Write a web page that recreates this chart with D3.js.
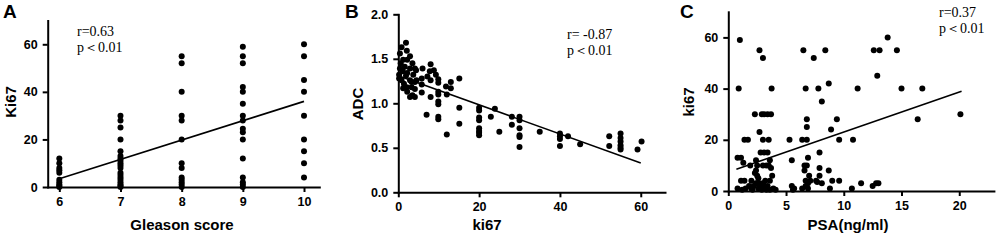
<!DOCTYPE html>
<html>
<head>
<meta charset="utf-8">
<script src="https://cdn.jsdelivr.net/npm/d3@7"></script>
<style>
  body { margin: 0; background: #fff; }
  svg { display: block; }
  .axis path, .axis line { stroke: #000; stroke-width: 2px; }
  .axis text { font-family: Arial, "Liberation Sans", sans-serif; font-weight: bold; font-size: 12.5px; fill: #000; }
  .title { font-family: Arial, "Liberation Sans", sans-serif; font-weight: bold; font-size: 15px; }
  .letter { font-family: Arial, "Liberation Sans", sans-serif; font-weight: bold; font-size: 19px; }
  .stat { font-family: "Times New Roman", "Liberation Serif", serif; font-size: 14px; }
</style>
</head>
<body>
<div id="chart"></div>
<script>
// Panel A: Ki67 by Gleason score
const gleasonScores = [6, 7, 8, 9, 10];
const ki67Gleason6 = [12, 10, 8, 7, 6, 3, 2, 1, 0.5, 0];
const ki67Gleason7 = [30, 28, 25, 20, 15, 13, 12, 11, 10, 9, 8, 6, 5, 4, 3, 2, 1, 0.5, 0];
const ki67Gleason8 = [55, 52, 40, 30, 28, 20, 10, 8, 4, 3, 2, 1, 0];
const ki67Gleason9 = [59, 55, 52, 42, 40, 35, 30, 28, 24.5, 23, 20, 12, 4, 2, 1, 0];
const ki67Gleason10 = [60, 55, 45, 40, 30, 20, 15, 10, 4];
const fitAX = [6, 10];
const fitAY = [3.5, 36];
const ticksAX = [6, 7, 8, 9, 10];
const ticksAY = [0, 20, 40, 60];

// Panel B: ADC vs ki67
const ki67B = [1.9, 0.8, 2.1, 0.4, 2.9, 1.2, 2.2, 0.6, 3.5, 1.6, 0.4, 2.9, 4.1, 1.1, 2.2, 0.2, 1.9, 3.7,
  0.8, 2.9, 1.4, 3.3, 4.1, 2.1, 3.3, 4.1, 2.2, 3.5, 2.9, 4.1, 1.2, 0.2, 4.5, 4.4,
  6.0, 5.8, 5.8, 5.8, 7.2, 7.0, 8.0, 7.8, 8.0, 8.0, 8.8, 9.3, 9.9, 9.9, 9.9, 9.9, 9.9, 9.9, 9.9, 9.9,
  11.8, 12.0, 13.0, 13.0, 15.1, 15.1, 15.1, 12.0,
  20, 20, 20, 20, 20, 20, 20, 20, 22.9, 23.9, 25, 28.1, 28.1,
  30, 30, 30, 30, 30, 30, 35, 40, 40, 40, 40, 42, 45, 52.2, 52.2,
  55, 55, 55, 55, 55, 55, 59.2, 60.2];
const adcB = [1.68, 1.63, 1.59, 1.56, 1.53, 1.49, 1.49, 1.45, 1.45, 1.41, 1.39, 1.39, 1.39, 1.36, 1.34, 1.32, 1.31, 1.32,
  1.26, 1.26, 1.22, 1.24, 1.24, 1.18, 1.18, 1.16, 1.13, 1.09, 1.07, 1.07, 1.17, 1.28, 1.26, 1.37,
  1.39, 1.28, 1.21, 1.12, 1.30, 0.87, 1.44, 1.36, 1.26, 1.07, 1.37, 1.32, 1.27, 1.23, 1.13, 1.10, 1.02, 0.99, 0.85, 0.82,
  1.19, 1.10, 1.24, 1.17, 1.28, 0.95, 0.77, 0.65,
  0.95, 0.92, 0.84, 0.81, 0.72, 0.69, 0.67, 0.64, 0.85, 0.94, 0.68, 0.85, 0.76,
  0.85, 0.81, 0.72, 0.64, 0.62, 0.51, 0.68, 0.66, 0.63, 0.60, 0.52, 0.63, 0.54, 0.63, 0.52,
  0.66, 0.61, 0.57, 0.53, 0.50, 0.48, 0.48, 0.57];
const fitBX = [0.5, 60];
const fitBY = [1.30, 0.33];
const ticksBX = [0, 20, 40, 60];
const ticksBY = [0, 0.5, 1.0, 1.5, 2.0];

// Panel C: ki67 vs PSA
const psaC = [1.0, 2.7, 3.0, 0.9, 3.75, 6.5, 7.4, 8.4, 12.6, 13.1, 14.6, 13.8, 12.9, 6.7, 7.8, 11.2, 15.0, 16.8, 8.7, 8.1,
  2.3, 2.9, 3.1, 3.4, 3.7, 20.1, 16.4, 9.4, 6.8, 6.8, 2.7, 8.9,
  1.4, 1.7, 3.0, 3.5, 5.3, 6.4, 6.8, 9.6, 10.8,
  2.8, 3.1, 3.4, 7.9, 0.8, 1.1, 6.9, 2.4, 5.5, 3.6,
  1.3, 2.5, 3.0, 3.3, 3.5, 6.6, 6.8, 1.9, 7.9, 2.4, 6.6, 8.7, 3.7,
  2.3, 2.5, 3.8, 7.0, 2.6, 7.9,
  1.1, 1.4, 2.0, 3.2, 3.6, 6.7, 7.1, 7.6, 9.0, 9.6, 6.9, 8.1, 11.5, 12.8, 13.0, 7.7, 6.7, 5.5, 12.5,
  0.8, 1.5, 1.8, 2.0, 2.2, 2.4, 2.6, 2.8, 3.0, 3.2, 3.4, 3.6, 3.9, 2.1, 2.9, 1.2, 3.3, 4.1, 5.7, 6.4, 6.9, 8.8, 10.7, 5.6,
  2.5, 2.7, 3.1];
const ki67C = [59, 55, 52, 40, 40, 55, 52, 55, 55, 55, 55, 60, 45, 40, 40, 40, 40, 40, 42, 35,
  30, 30, 30, 30, 30, 30, 28, 28, 28, 25, 23, 24,
  20, 20, 20, 20, 20, 20, 20, 20, 20,
  15, 15, 15, 15, 13, 13, 13, 12, 12, 12,
  11, 10, 10, 10, 10, 10, 10, 10, 9, 8, 8, 8, 9,
  7, 6, 6, 6, 5, 6,
  4, 4, 4, 4, 4, 4, 4, 4, 4, 4, 3, 3, 3, 3, 3, 3.5, 2, 2, 2,
  1, 1, 2, 1, 2, 3, 1, 2, 3, 1, 2, 0.5, 1, 0.5, 0.5, 0.5, 0.5, 0.5, 1, 1, 1, 1, 1, 0.5,
  3, 3, 2];
const fitCX = [0.7, 20.2];
const fitCY = [8.5, 39];
const ticksCX = [0, 5, 10, 15, 20];
const ticksCY = [0, 20, 40, 60];

const width = 1000, height = 242;

const svg = d3.select("#chart").append("svg")
  .attr("width", width)
  .attr("height", height);

function scatterPanel(opts) {
  const x = d3.scaleLinear().domain(opts.xDomain).range(opts.xRange);
  const y = d3.scaleLinear().domain(opts.yDomain).range(opts.yRange);
  const g = svg.append("g");

  // axes
  g.append("g")
    .attr("class", "axis")
    .attr("transform", "translate(0," + opts.yRange[0] + ")")
    .call(d3.axisBottom(x).tickValues(opts.xTicks).tickSize(5).tickSizeOuter(0)
      .tickPadding(5).tickFormat(opts.xFormat || d3.format("d")));
  g.append("g")
    .attr("class", "axis")
    .attr("transform", "translate(" + opts.xRange[0] + ",0)")
    .call(d3.axisLeft(y).tickValues(opts.yTicks).tickSize(5).tickSizeOuter(0)
      .tickPadding(5).tickFormat(opts.yFormat || d3.format("d")));
  g.selectAll(".axis path").attr("stroke-linecap", "square");

  // dots
  g.append("g").selectAll("circle")
    .data(opts.points)
    .join("circle")
    .attr("cx", d => x(d[0]))
    .attr("cy", d => y(d[1]))
    .attr("r", 3)
    .attr("fill", "#000");

  // regression line
  const fit = d3.zip(opts.fitX, opts.fitY);
  g.append("path")
    .datum(fit)
    .attr("fill", "none")
    .attr("stroke", "#000")
    .attr("stroke-width", 1.6)
    .attr("d", d3.line().x(d => x(d[0])).y(d => y(d[1])));

  // titles
  const xMid = (opts.xRange[0] + opts.xRange[1]) / 2;
  g.append("text").attr("class", "title")
    .attr("x", opts.xTitleX || xMid).attr("y", 230)
    .attr("text-anchor", "middle")
    .text(opts.xTitle);
  g.append("text").attr("class", "title")
    .attr("transform", "translate(" + opts.yTitleX + "," + opts.yTitleY + ") rotate(-90)")
    .attr("text-anchor", "middle")
    .text(opts.yTitle);
  g.append("text").attr("class", "letter")
    .attr("x", opts.letterX).attr("y", 18)
    .text(opts.letter);

  // stats
  g.append("text").attr("class", "stat")
    .attr("x", opts.statX).attr("y", opts.statY)
    .text(opts.stat1);
  g.append("text").attr("class", "stat")
    .attr("x", opts.statX).attr("y", opts.statY + 16)
    .text(opts.stat2);
}

const pointsA = [];
[ki67Gleason6, ki67Gleason7, ki67Gleason8, ki67Gleason9, ki67Gleason10].forEach((vals, i) => {
  vals.forEach(v => pointsA.push([gleasonScores[i], v]));
});

scatterPanel({
  points: pointsA,
  xDomain: [5.81, 10.25], xRange: [47.7, 319.3],
  yDomain: [0, 70], yRange: [187, 20.5],
  xTicks: ticksAX, yTicks: ticksAY,
  fitX: fitAX, fitY: fitAY,
  xTitle: "Gleason score", xTitleX: 182,
  yTitle: "Ki67", yTitleX: 16, yTitleY: 102,
  letter: "A", letterX: 3,
  stat1: "r=0.63", stat2: "p\uFF1C0.01", statX: 77, statY: 36
});

scatterPanel({
  points: d3.zip(ki67B, adcB),
  xDomain: [0, 66], xRange: [398.3, 665],
  yDomain: [0, 2], yRange: [192.3, 14.3],
  xTicks: ticksBX, yTicks: ticksBY,
  yFormat: d3.format(".1f"),
  fitX: fitBX, fitY: fitBY,
  xTitle: "ki67", xTitleX: 487,
  yTitle: "ADC", yTitleX: 363, yTitleY: 104,
  letter: "B", letterX: 345,
  stat1: "r= -0.87", stat2: "p\uFF1C0.01", statX: 567, statY: 39
});

scatterPanel({
  points: d3.zip(psaC, ki67C),
  xDomain: [0, 23], xRange: [728.3, 993.9],
  yDomain: [0, 70], yRange: [191, 11.8],
  xTicks: ticksCX, yTicks: ticksCY,
  fitX: fitCX, fitY: fitCY,
  xTitle: "PSA(ng/ml)", xTitleX: 848,
  yTitle: "ki67", yTitleX: 694, yTitleY: 102,
  letter: "C", letterX: 680,
  stat1: "r=0.37", stat2: "p\uFF1C0.01", statX: 939, statY: 17
});
</script>
</body>
</html>
